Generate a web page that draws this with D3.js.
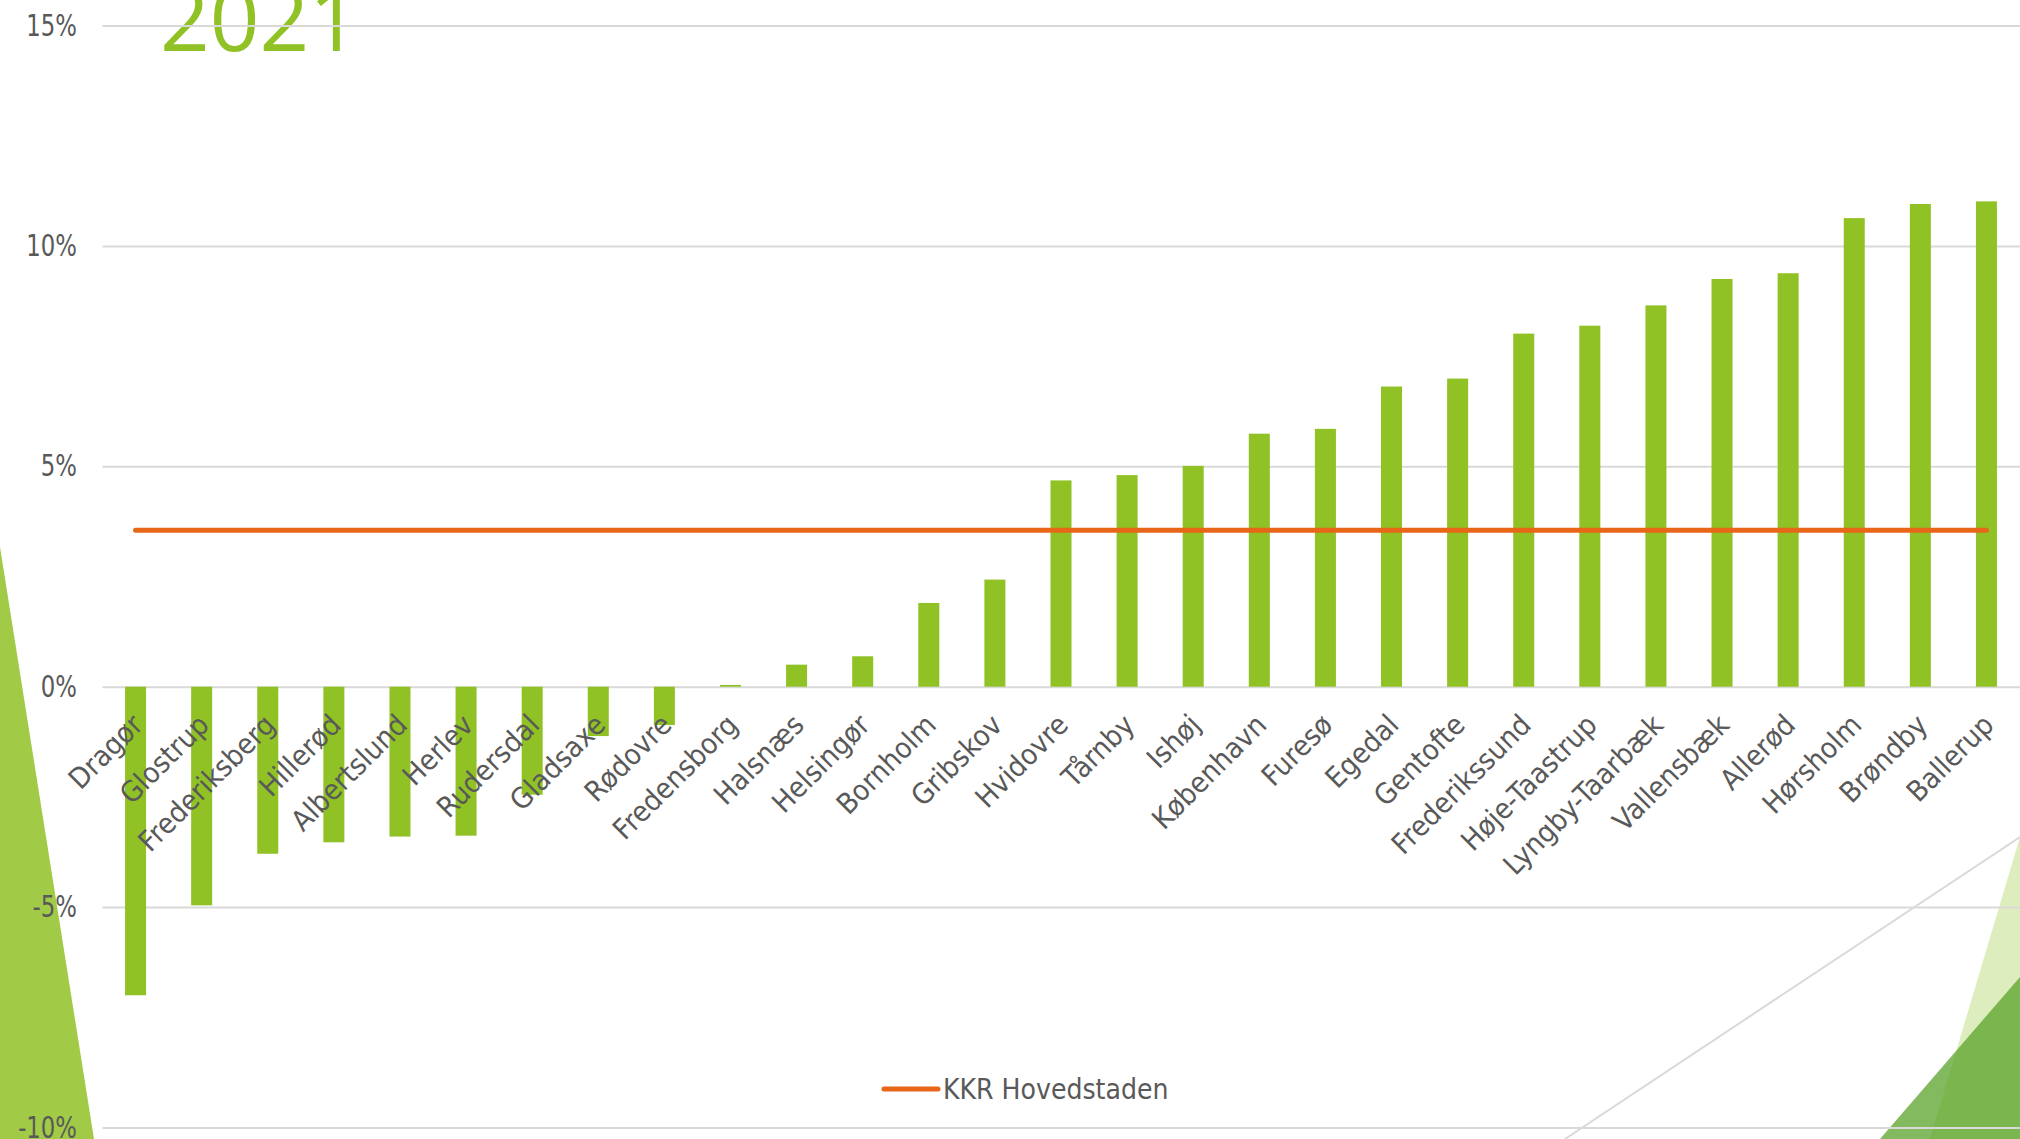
<!DOCTYPE html>
<html>
<head>
<meta charset="utf-8">
<script src="https://cdn.jsdelivr.net/npm/d3@7"></script>
<style>
  html, body { margin: 0; padding: 0; background: #fff; overflow: hidden; }
  svg { display: block; }
</style>
</head>
<body>
<svg id="chart" width="2020" height="1139"></svg>
<script>
// Municipalities in the Capital Region, sorted by change (%)
const municipalities = ["Dragør", "Glostrup", "Frederiksberg", "Hillerød", "Albertslund", "Herlev",
  "Rudersdal", "Gladsaxe", "Rødovre", "Fredensborg", "Halsnæs", "Helsingør", "Bornholm", "Gribskov",
  "Hvidovre", "Tårnby", "Ishøj", "København", "Furesø", "Egedal", "Gentofte", "Frederikssund",
  "Høje-Taastrup", "Lyngby-Taarbæk", "Vallensbæk", "Allerød", "Hørsholm", "Brøndby", "Ballerup"];
const changePct = [-7.0, -4.96, -3.79, -3.53, -3.40, -3.38, -2.45, -1.12, -0.87, 0.04, 0.50, 0.69,
  1.90, 2.43, 4.68, 4.80, 5.01, 5.74, 5.85, 6.81, 6.99, 8.01, 8.19, 8.65, 9.25, 9.38, 10.63, 10.95, 11.01];
const regionAvg = 3.55;              // KKR Hovedstaden
const yTicks = [-10, -5, 0, 5, 10, 15];
const titleText = "2021";
const legendLabel = "KKR Hovedstaden";

const W = 2020, H = 1139;
const plotLeft = 102.5, plotRight = 2019.5, plotTop = 25.5, plotBottom = 1127.5;
const labelFont = "'DejaVu Sans', Verdana, sans-serif";
const textGrey = "#595959";
const barGreen = "#90C226";
const lineOrange = "#E76618";

const svg = d3.select("#chart");

// slide decoration behind the chart
const deco = svg.append("g");
deco.append("polygon").attr("points", "0,547 94,1139 0,1139")
  .attr("fill", barGreen).attr("fill-opacity", 0.85);
deco.append("line").attr("x1", 2020).attr("y1", 837).attr("x2", 1565).attr("y2", 1139)
  .attr("stroke", "#D9D9D9").attr("stroke-width", 2);
deco.append("polygon").attr("points", "2020,837 1930,1139 2020,1139")
  .attr("fill", barGreen).attr("fill-opacity", 0.3);
deco.append("polygon").attr("points", "2020,977 1880,1139 2020,1139")
  .attr("fill", "#54A021").attr("fill-opacity", 0.72);

// title
svg.append("text").attr("x", 160).attr("y", 51)
  .attr("font-family", "'Open Sans', sans-serif").attr("font-size", 87)
  .attr("fill", barGreen).text(titleText);

const x = d3.scaleBand().domain(municipalities)
  .range([plotLeft, plotRight]).paddingInner(0.682).paddingOuter(0.341);
const y = d3.scaleLinear().domain([-10, 15]).range([plotBottom, plotTop]);

// value axis with gridlines
const yAxis = svg.append("g").attr("transform", `translate(${plotLeft},0)`)
  .call(d3.axisLeft(y).tickValues(yTicks).tickSize(-(W - plotLeft)).tickFormat(d => d + "%"));
yAxis.select(".domain").remove();
yAxis.selectAll(".tick line").attr("stroke", "#D9D9D9").attr("stroke-width", 2);
yAxis.selectAll(".tick text")
  .attr("x", 0)
  .attr("transform", "translate(-25.5,0) scale(0.76,1)")
  .attr("fill", textGrey).attr("font-family", labelFont).attr("font-size", 30);

// bars
svg.append("g").selectAll("rect").data(municipalities).join("rect")
  .attr("x", d => x(d))
  .attr("width", x.bandwidth())
  .attr("y", (d, i) => y(Math.max(0, changePct[i])))
  .attr("height", (d, i) => Math.abs(y(changePct[i]) - y(0)))
  .attr("fill", barGreen);

// category labels
const cx = d => x(d) + x.bandwidth() / 2;
svg.append("g").selectAll("text").data(municipalities).join("text")
  .attr("transform", d => `translate(${cx(d) + 9},${y(0) + 40}) rotate(-45) scale(0.92,1)`)
  .attr("text-anchor", "end")
  .attr("fill", textGrey).attr("font-family", labelFont).attr("font-size", 28.5)
  .text(d => d);

// regional average line
svg.append("path")
  .datum(municipalities)
  .attr("d", d3.line().x(d => cx(d)).y(() => y(regionAvg)))
  .attr("fill", "none").attr("stroke", lineOrange).attr("stroke-width", 5)
  .attr("stroke-linecap", "round");

// legend
const legend = svg.append("g").attr("transform", "translate(884,1089)");
legend.append("line").attr("x1", 0).attr("x2", 54).attr("y1", 0).attr("y2", 0)
  .attr("stroke", lineOrange).attr("stroke-width", 5).attr("stroke-linecap", "round");
legend.append("text").attr("transform", "translate(59,10) scale(0.87,1)")
  .attr("fill", textGrey).attr("font-family", labelFont).attr("font-size", 29)
  .text(legendLabel);
</script>
</body>
</html>
